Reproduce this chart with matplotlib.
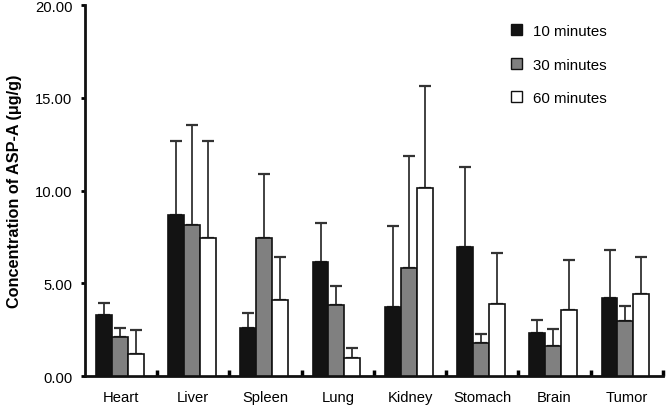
import numpy as np
import matplotlib.pyplot as plt
from matplotlib.patches import Patch

plt.rcParams['font.family'] = ['Liberation Sans', 'DejaVu Sans']

# dados
orgaos = ['Heart', 'Liver', 'Spleen', 'Lung', 'Kidney', 'Stomach', 'Brain', 'Tumor']
series = ['10 minutes', '30 minutes', '60 minutes']

media_10 = [3.29, 8.70, 2.59, 6.16, 3.70, 6.94, 2.34, 4.22]
media_30 = [2.12, 8.14, 7.46, 3.83, 5.81, 1.80, 1.60, 2.98]
media_60 = [1.20, 7.46, 4.10, 0.99, 10.12, 3.88, 3.54, 4.40]

# topo das barras de erro (media + dp)
topo_10 = [3.95, 12.67, 3.38, 8.25, 8.09, 11.25, 3.00, 6.81]
topo_30 = [2.59, 13.51, 10.91, 4.87, 11.84, 2.28, 2.53, 3.76]
topo_60 = [2.46, 12.65, 6.43, 1.49, 15.65, 6.63, 6.24, 6.41]

cores = ['#131313', '#808080', '#ffffff']
deslocs = [-0.24, -0.02, 0.20]
largura = 0.22

fig = plt.figure(figsize=(6.67, 4.06), dpi=100)
ax = fig.add_axes([0.1274, 0.0714, 0.8666, 0.9136])

x = np.arange(len(orgaos))
medias = [media_10, media_30, media_60]
topos = [topo_10, topo_30, topo_60]

for m, t, c, d in zip(medias, topos, cores, deslocs):
    m = np.array(m)
    t = np.array(t)
    ax.bar(x + d, m, largura, color=c, edgecolor='#111111', linewidth=1.2, zorder=3)
    erro = np.vstack([np.zeros_like(m), t - m])
    ax.errorbar(x + d, m, yerr=erro, fmt='none', ecolor='#333333',
                elinewidth=1.3, capsize=4, capthick=1.6, zorder=2)

ax.set_xlim(-0.5, 7.5)
ax.set_ylim(0, 20)
ax.set_yticks([0, 5, 10, 15, 20])
ax.set_yticklabels(['%.2f' % v for v in [0, 5, 10, 15, 20]], fontsize=10.6)
ax.set_xticks(x)
ax.set_xticklabels(orgaos, fontsize=10.6)
ax.set_xticks(np.arange(0.5, 8.0, 1.0), minor=True)
ax.tick_params(axis='x', which='major', length=0, pad=10)
ax.tick_params(axis='x', which='minor', direction='in', length=4, width=2.5)
ax.tick_params(axis='y', direction='out', length=3, width=2, pad=6)

for lado in ['top', 'right']:
    ax.spines[lado].set_visible(False)
for lado in ['left', 'bottom']:
    ax.spines[lado].set_linewidth(2)
    ax.spines[lado].set_color('#111111')

ax.set_ylabel('Concentration of ASP-A (μg/g)', fontsize=11.7, fontweight='bold', labelpad=9)

handles = [Patch(facecolor=c, edgecolor='#111111', linewidth=1.0) for c in cores]
fig.legend(handles, series, loc='upper left', bbox_to_anchor=(0.766, 0.938),
           frameon=False, fontsize=10.8, handlelength=0.75, handleheight=0.75,
           handletextpad=0.7, labelspacing=1.3, borderpad=0, borderaxespad=0)

fig.savefig('out.png', dpi=100)
